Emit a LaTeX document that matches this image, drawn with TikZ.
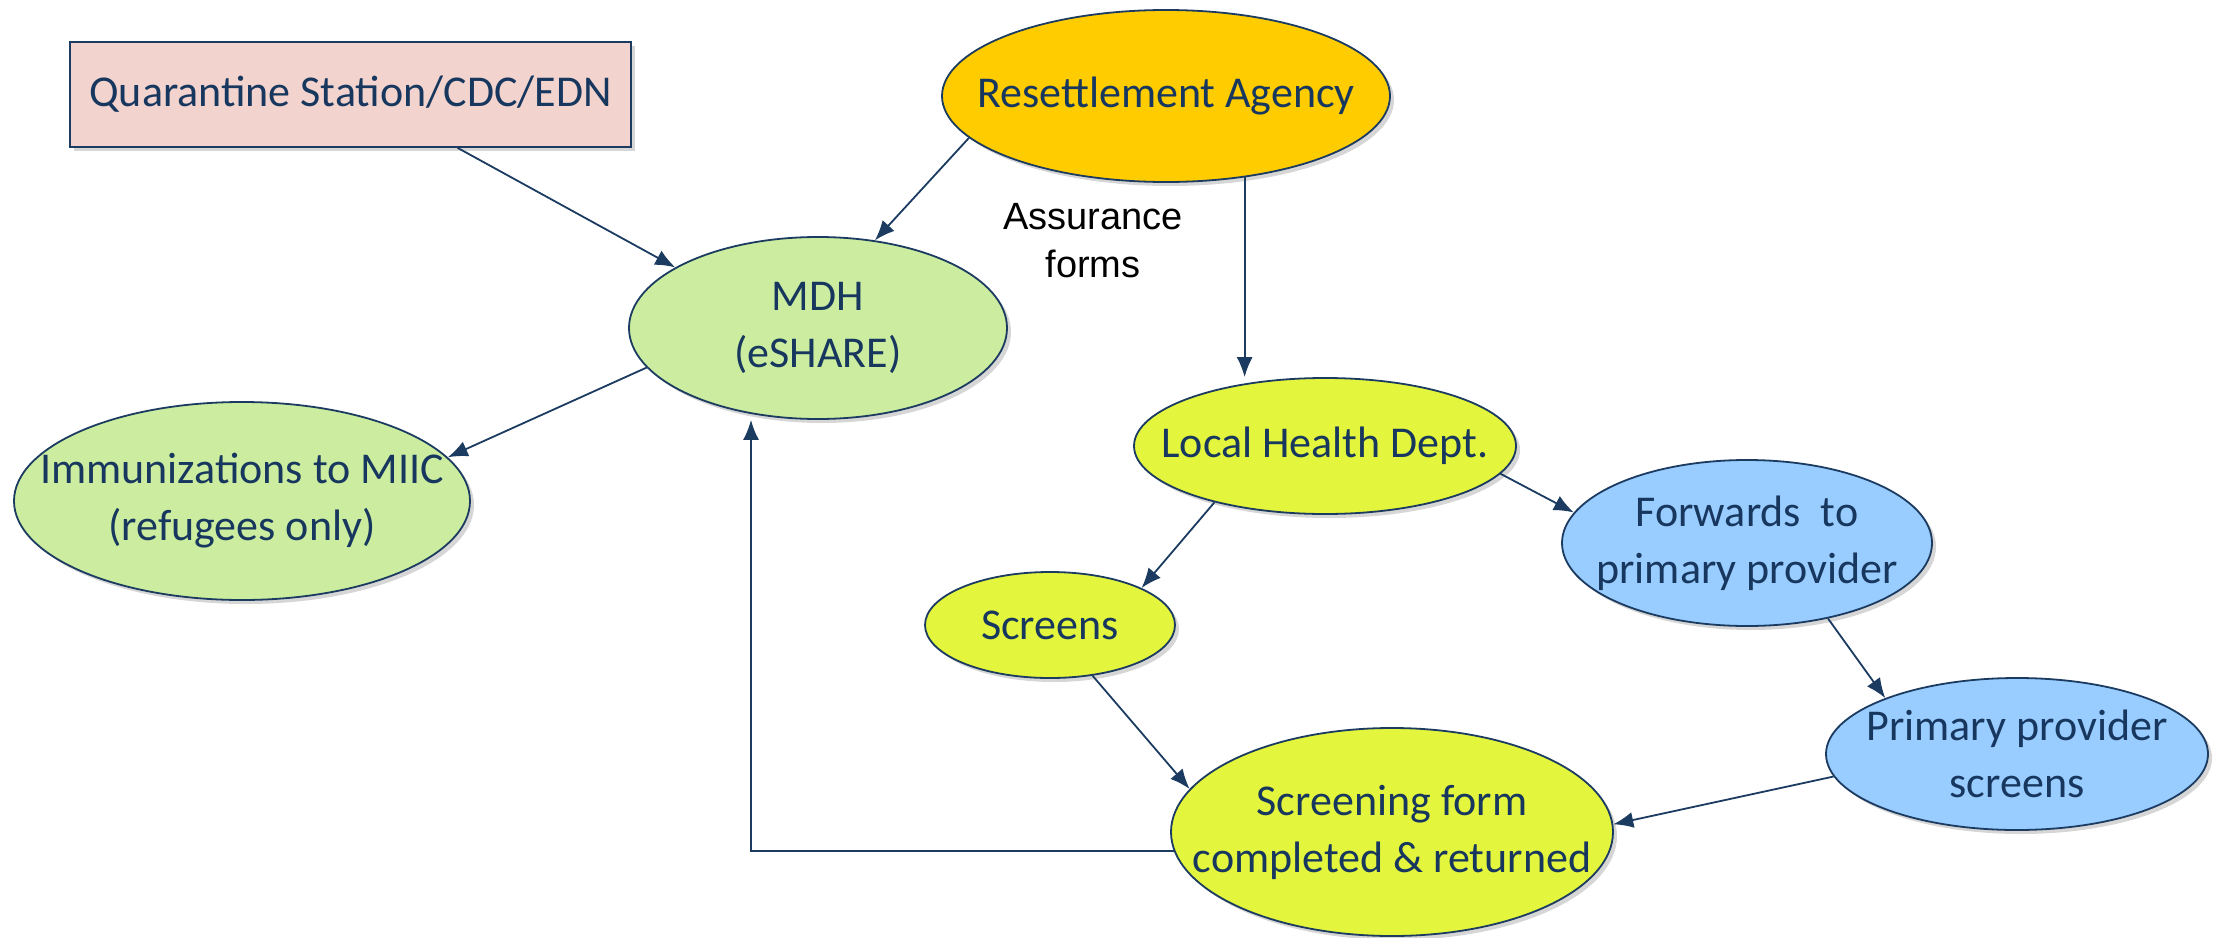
\documentclass[tikz,border=0pt]{standalone}
\usepackage{fontspec}
\setmainfont{Carlito}
\newfontfamily\arialf{Liberation Sans}
\usetikzlibrary{shapes.geometric,arrows.meta,shadows}
\definecolor{navy}{HTML}{1B3B60}
\definecolor{txtblue}{HTML}{17375E}
\definecolor{qpink}{HTML}{F2D3CE}
\definecolor{ragold}{HTML}{FFCC00}
\definecolor{lgreen}{HTML}{CCEDA0}
\definecolor{ygreen}{HTML}{E3F53C}
\definecolor{lblue}{HTML}{99CCFF}
\definecolor{shadowgray}{HTML}{D6D6D6}
\tikzset{
 sh/.style={drop shadow={shadow xshift=4pt,shadow yshift=-4pt,fill=shadowgray,opacity=1}},
 ell/.style={ellipse, draw=navy, line width=1.8pt, inner sep=0pt, sh},
 txt/.style={text=txtblue, font=\fontsize{44}{57}\selectfont, align=center, inner sep=0pt},
 arr/.style={draw=navy, line width=1.8pt, -{Latex[length=20pt,width=16pt]}},
}
\begin{document}
\begin{tikzpicture}[x=1pt,y=-1pt]
\useasboundingbox (0,0) rectangle (2219,937);
% nodes
\node[draw=navy, line width=1.6pt, fill=qpink, minimum width=561pt, minimum height=105pt, sh, txt] (Q) at (350.5,94.5) {Quarantine Station/CDC/EDN};
\node[ell, fill=ragold, minimum width=448pt, minimum height=172pt, label={[txt]center:{Resettlement Agency}}] (RA) at (1166,96) {};
\node[ell, fill=lgreen, minimum width=378pt, minimum height=182pt, label={[txt]center:{MDH\\(eSHARE)}}] (MDH) at (818,328) {};
\node[ell, fill=lgreen, minimum width=456pt, minimum height=198pt, label={[txt]center:{Immunizations to MIIC\\(refugees only)}}] (IM) at (242,501) {};
\node[ell, fill=ygreen, minimum width=382pt, minimum height=136pt, label={[txt]center:{Local Health Dept.}}] (LHD) at (1325,446) {};
\node[ell, fill=lblue, minimum width=370pt, minimum height=166pt, label={[txt]center:{Forwards\ \ to\\primary provider}}] (FW) at (1747,543) {};
\node[ell, fill=ygreen, minimum width=250pt, minimum height=106pt, label={[txt]center:{Screens}}] (SC) at (1050,625) {};
\node[ell, fill=lblue, minimum width=382pt, minimum height=152pt, label={[txt]center:{Primary provider\\screens}}] (PP) at (2017,754) {};
\node[ell, fill=ygreen, minimum width=442pt, minimum height=208pt, label={[txt]center:{Screening form\\completed \& returned}}] (SF) at (1392,832) {};
\node[font=\arialf\fontsize{38}{48}\selectfont, align=center, inner sep=0pt] (AF) at (1093,241) {Assurance\\forms};
% connectors
\draw[arr] ([xshift=107pt]Q.south) -- (MDH.157);
\draw[arr] (RA.192) -- (MDH.57);
\draw[arr] (RA.-46.4) -- (RA.-46.4 |- LHD.north);
\draw[arr] (MDH.193) -- (IM.12.6);
\draw[arr] (LHD.207.7) -- (SC.22.9);
\draw[arr] (LHD.-9.8) -- (FW.170.8);
\draw[arr] (FW.-43.2) -- (PP.157.8);
\draw[arr] (SC.-50.3) -- (SF.168.3);
\draw[arr] (PP.187.3) -- (SF.2.8);
\draw[arr] (SF.185) -| ([xshift=-67pt]MDH.south);
\end{tikzpicture}
\end{document}
